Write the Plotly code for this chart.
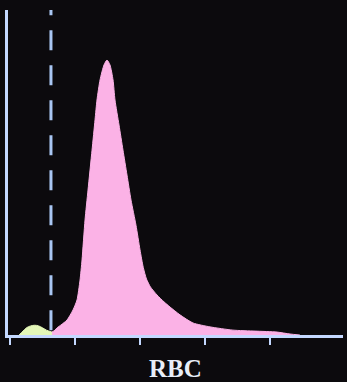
import plotly.graph_objects as go

# RBC histogram (volume in fL vs relative count)
rbc_fl = [64.6, 69.2, 72.3, 78.5, 87.7, 96.9, 103.1, 107.7, 110.8, 115.4, 120.0, 126.2,
          130.8, 133.8, 138.5, 144.6, 149.2, 153.8, 158.5, 161.5, 167.7, 173.8, 180.0, 186.2,
          193.8, 200.0, 205.0, 210.0, 216.0, 226.2, 236.9, 246.2, 261.5, 281.5, 307.7, 343.0,
          377.0, 410.8, 430.8, 446.0]
rbc_count = [0.9, 1.5, 2.2, 3.1, 4.6, 7.7, 10.8, 16.9, 23.1, 35.4, 44.6, 56.9,
             66.2, 72.3, 78.5, 83.1, 84.6, 83.1, 78.5, 72.3, 64.6, 56.9, 49.2, 41.5,
             33.8, 26.2, 20.8, 17.2, 14.8, 12.3, 10.2, 8.6, 6.2, 3.7, 2.5, 1.5,
             1.2, 0.9, 0.3, 0.0]

# small debris / platelet region (green)
plt_fl = [14, 20, 26, 32, 38, 44, 50, 56, 63, 68]
plt_count = [0.0, 1.2, 2.3, 2.8, 3.0, 2.8, 2.2, 1.5, 1.0, 0.6]

threshold_fl = [63]
tick_vals = [0, 100, 200, 300, 400]

axis_col = "#c4d8ff"
bg = "#0c0a0d"

fig = go.Figure()
fig.add_trace(go.Scatter(x=plt_fl, y=plt_count, mode="lines", fill="tozeroy",
                         line=dict(color="#e4f7b8", width=1, shape="spline"),
                         fillcolor="#e4f7b8", hoverinfo="skip"))
fig.add_trace(go.Scatter(x=rbc_fl, y=rbc_count, mode="lines", fill="tozeroy",
                         line=dict(color="#fbb2e6", width=1, shape="spline", smoothing=0.6),
                         fillcolor="#fbb2e6", hoverinfo="skip"))
fig.add_trace(go.Scatter(x=threshold_fl * 2, y=[1.5, 100], mode="lines",
                         line=dict(color="#a9c6f2", width=3, dash="20px,15px"),
                         hoverinfo="skip"))

fig.update_layout(
    width=347, height=382,
    margin=dict(l=8, r=4, t=10, b=47),
    paper_bgcolor=bg, plot_bgcolor=bg,
    showlegend=False,
    xaxis=dict(range=[-3.1, 512.3], showgrid=False, zeroline=False,
               showline=True, linecolor=axis_col, linewidth=3,
               ticks="outside", tickvals=tick_vals, ticklen=7, tickwidth=2,
               tickcolor=axis_col, showticklabels=False, fixedrange=True),
    yaxis=dict(range=[0, 100], showgrid=False, zeroline=False,
               showline=True, linecolor=axis_col, linewidth=3,
               ticks="", showticklabels=False, fixedrange=True),
    annotations=[dict(text="<b>RBC</b>", x=0.5, y=0, xref="paper", yref="paper",
                      yshift=-33, yanchor="middle", xanchor="center", showarrow=False,
                      font=dict(family="Liberation Serif", size=25, color="#e8eef8"))],
)

fig.write_html("out.html")
